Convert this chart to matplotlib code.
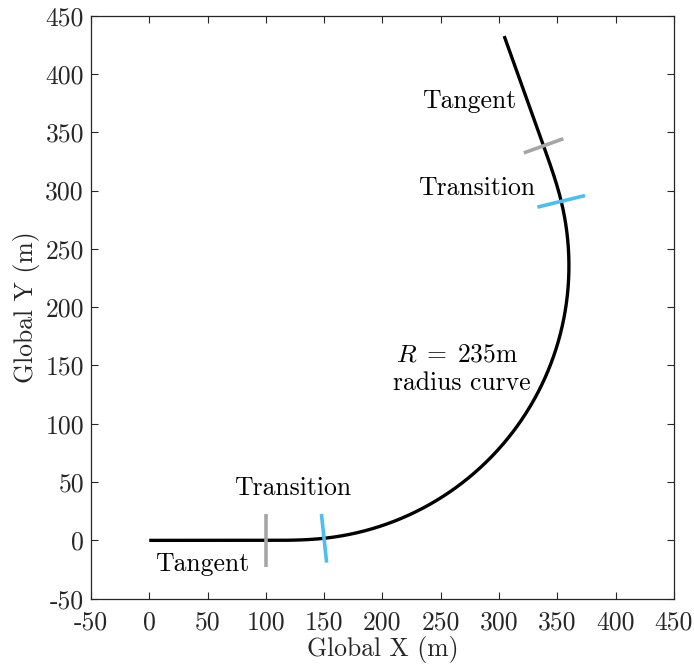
import numpy as np
import matplotlib
matplotlib.use("Agg")
import matplotlib.pyplot as plt

# Road alignment: element types, lengths along the chainage (m) and curve radius
segment_types = ["Tangent", "Transition", "Circular", "Transition", "Tangent"]
segment_lengths = [100.0, 50.0, 400.0, 50.0, 100.0]
curve_radius = 235.0

# Boundary markers between elements (index of boundary, colour, half length in m)
marker_boundaries = [1, 2, 3, 4]
marker_colors = ["#a6a6a6", "#4dbeee", "#4dbeee", "#a6a6a6"]
marker_half_lengths = [23.0, 21.0, 21.0, 18.0]

# Labels
label_texts = ["Tangent", "Transition", r"$R\;=\;235$m", "radius curve", "Transition", "Tangent"]
label_x = [45, 123, 264, 268, 281, 274]
label_y = [-20, 45, 159, 135, 302, 377]

x_ticks = [-50, 0, 50, 100, 150, 200, 250, 300, 350, 400, 450]
y_ticks = [-50, 0, 50, 100, 150, 200, 250, 300, 350, 400, 450]

plt.rcParams["font.family"] = "serif"
plt.rcParams["font.serif"] = ["cmr10", "DejaVu Serif"]
plt.rcParams["mathtext.fontset"] = "cm"
plt.rcParams["axes.unicode_minus"] = False
plt.rcParams["axes.formatter.use_mathtext"] = True

FS = 18.5

# Curvature along the chainage for each element
ds = 0.25
bounds = np.concatenate([[0.0], np.cumsum(segment_lengths)])
s = np.arange(0.0, bounds[-1] + ds / 2, ds)
k_end = 1.0 / curve_radius
curv = np.zeros_like(s)
for i, kind in enumerate(segment_types):
    a, b = bounds[i], bounds[i + 1]
    m = (s >= a) & (s <= b)
    if kind == "Circular":
        curv[m] = k_end
    elif kind == "Transition":
        frac = (s[m] - a) / (b - a)
        entering = i < len(segment_types) // 2
        curv[m] = k_end * (frac if entering else 1 - frac)

heading = np.concatenate([[0.0], np.cumsum(0.5 * (curv[1:] + curv[:-1]) * ds)])
gx = np.concatenate([[0.0], np.cumsum(0.5 * (np.cos(heading[1:]) + np.cos(heading[:-1])) * ds)])
gy = np.concatenate([[0.0], np.cumsum(0.5 * (np.sin(heading[1:]) + np.sin(heading[:-1])) * ds)])

fig = plt.figure(figsize=(6.94, 6.71), dpi=100)
ax = fig.add_axes([0.131, 0.1078, 0.971 - 0.131, 0.9766 - 0.1078])

ax.plot(gx, gy, color="black", lw=2.4, solid_capstyle="butt", zorder=2)

for bi, col, hl in zip(marker_boundaries, marker_colors, marker_half_lengths):
    j = int(round(bounds[bi] / ds))
    nx, ny = -np.sin(heading[j]), np.cos(heading[j])
    ax.plot([gx[j] - hl * nx, gx[j] + hl * nx], [gy[j] - hl * ny, gy[j] + hl * ny],
            color=col, lw=2.6, solid_capstyle="butt", zorder=3)

for t, xx, yy in zip(label_texts, label_x, label_y):
    ax.text(xx, yy, t, ha="center", va="center", fontsize=FS, color="black")

ax.set_xlim(-50, 450)
ax.set_ylim(-50, 450)
ax.set_xticks(x_ticks)
ax.set_yticks(y_ticks)
ax.set_xticklabels([str(v) for v in x_ticks])
ax.set_yticklabels([str(v) for v in y_ticks])
ax.tick_params(direction="in", length=5, width=0.8, top=True, right=True,
               labelsize=FS, colors="#262626", pad=5)
ax.tick_params(axis="x", pad=9)
for sp in ax.spines.values():
    sp.set_color("#262626")
    sp.set_linewidth(0.9)
ax.set_xlabel("Global X (m)", fontsize=FS, color="#262626", labelpad=1)
ax.set_ylabel("Global Y (m)", fontsize=FS, color="#262626", labelpad=4)

fig.savefig("out.png", dpi=100)
